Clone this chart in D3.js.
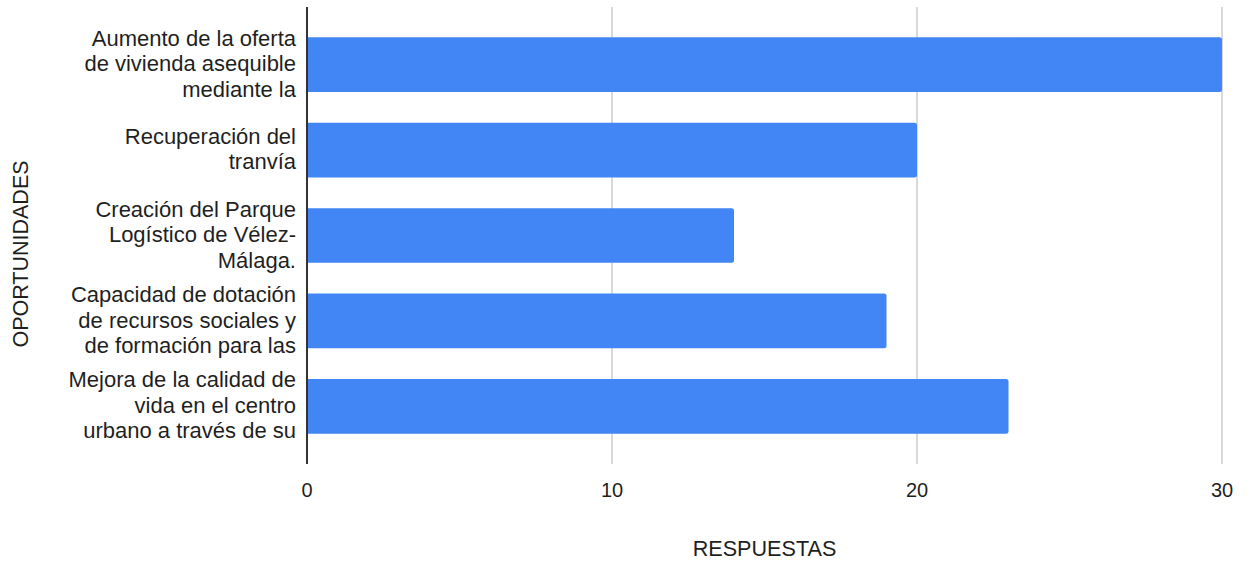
<!DOCTYPE html>
<html>
<head>
<meta charset="utf-8">
<script src="https://cdn.jsdelivr.net/npm/d3@7"></script>
<style>
  body { margin: 0; background: #fff; }
  text { font-family: "Liberation Sans", Arial, sans-serif; fill: #1f1f1f; }
</style>
</head>
<body>
<svg id="chart" width="1252" height="562"></svg>
<script>
// categories (as wrapped in the original chart)
var categories = [
  ["Aumento de la oferta", "de vivienda asequible", "mediante la"],
  ["Recuperación del", "tranvía"],
  ["Creación del Parque", "Logístico de Vélez-", "Málaga."],
  ["Capacidad de dotación", "de recursos sociales y", "de formación para las"],
  ["Mejora de la calidad de", "vida en el centro", "urbano a través de su"]
]
var respuestas = [30, 20, 14, 19, 23]
var xTicks = [0, 10, 20, 30]

var svg = d3.select("#chart")
var plotLeft = 307, plotRight = 1222, plotTop = 7, plotBottom = 464

var x = d3.scaleLinear().domain([0, 30]).range([plotLeft, plotRight])
var y = d3.scaleBand()
  .domain(d3.range(categories.length))
  .range([plotTop, plotBottom])
  .paddingInner(0.36)
  .paddingOuter(0.355)

// gridlines
svg.append("g")
  .selectAll("line")
  .data(xTicks.slice(1))
  .join("line")
  .attr("x1", d => x(d)).attr("x2", d => x(d))
  .attr("y1", plotTop).attr("y2", plotBottom)
  .attr("stroke", "#cccccc")
  .attr("stroke-width", 1.5)

// bars (rounded only at the right end)
svg.append("g")
  .selectAll("path")
  .data(respuestas)
  .join("path")
  .attr("fill", "#4285f4")
  .attr("d", function(d, i) {
    var x0 = x(0), x1 = x(d), y0 = y(i), h = y.bandwidth(), r = 2.5
    return "M" + x0 + "," + y0 +
      "H" + (x1 - r) + "Q" + x1 + "," + y0 + " " + x1 + "," + (y0 + r) +
      "V" + (y0 + h - r) + "Q" + x1 + "," + (y0 + h) + " " + (x1 - r) + "," + (y0 + h) +
      "H" + x0 + "Z"
  })

// y axis line
svg.append("line")
  .attr("x1", plotLeft).attr("x2", plotLeft)
  .attr("y1", plotTop).attr("y2", plotBottom)
  .attr("stroke", "#333")
  .attr("stroke-width", 2)

// category labels
var lineH = 25.5
var labels = svg.append("g")
  .selectAll("text")
  .data(categories)
  .join("text")
  .attr("text-anchor", "end")
  .attr("font-size", 22)
labels.each(function(lines, i) {
  var cy = y(i) + y.bandwidth() / 2
  var start = cy - (lines.length - 1) * lineH / 2
  d3.select(this).selectAll("tspan")
    .data(lines)
    .join("tspan")
    .attr("x", plotLeft - 11)
    .attr("y", (d, j) => start + j * lineH)
    .attr("dy", "0.3em")
    .text(d => d)
})

// x axis tick labels
svg.append("g")
  .selectAll("text")
  .data(xTicks)
  .join("text")
  .attr("x", d => x(d))
  .attr("y", 490)
  .attr("dy", "0.35em")
  .attr("text-anchor", "middle")
  .attr("font-size", 20)
  .text(d => d)

// axis titles
svg.append("text")
  .attr("x", (plotLeft + plotRight) / 2)
  .attr("y", 548)
  .attr("dy", "0.35em")
  .attr("text-anchor", "middle")
  .attr("font-size", 21.6)
  .text("RESPUESTAS")

svg.append("text")
  .attr("transform", "translate(20,254) rotate(-90)")
  .attr("dy", "0.35em")
  .attr("text-anchor", "middle")
  .attr("font-size", 21.5)
  .text("OPORTUNIDADES")
</script>
</body>
</html>
